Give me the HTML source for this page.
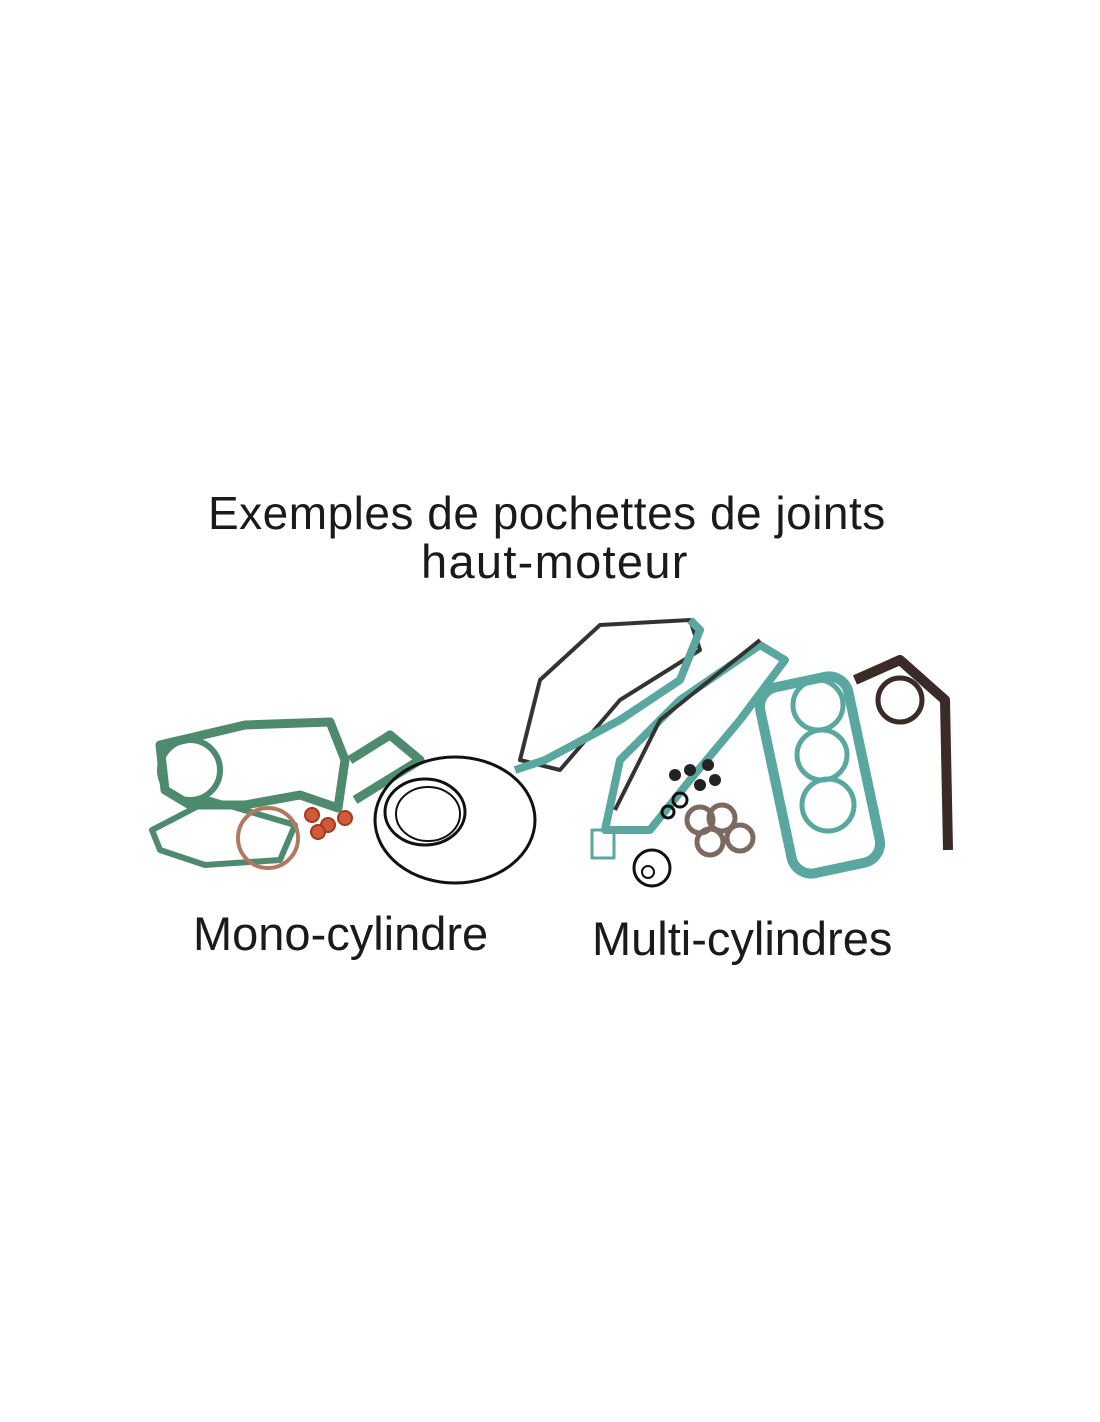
<!DOCTYPE html>
<html><head><style>
html,body{margin:0;padding:0;background:#fff;}
body{width:1100px;height:1422px;position:relative;overflow:hidden;font-family:"Liberation Sans",sans-serif;color:#1a1a1a;}
.t{position:absolute;white-space:nowrap;}
</style></head><body>
<div class="t" style="left:208px;top:486px;font-size:46px;letter-spacing:0.5px;">Exemples de pochettes de joints</div>
<div class="t" style="left:421px;top:534px;font-size:47px;letter-spacing:1.3px;">haut-moteur</div>
<div class="t" style="left:193px;top:906px;font-size:47px;">Mono-cylindre</div>
<div class="t" style="left:592px;top:911px;font-size:47px;">Multi-cylindres</div>
<svg width="1100" height="1422" style="position:absolute;left:0;top:0">
<g fill="none" stroke-linejoin="round">
<path d="M160 745 L245 725 L330 722 L345 760 L338 808 L300 795 L245 805 L190 805 L165 790 Z" stroke="#4d8a6e" stroke-width="9"/>
<circle cx="190" cy="770" r="30" stroke="#4d8a6e" stroke-width="6"/>
<path d="M350 760 L390 735 L420 760 L355 800" stroke="#4d8a6e" stroke-width="9"/>
<path d="M152 830 L210 800 L295 825 L280 860 L205 865 L160 850 Z" stroke="#4d8a6e" stroke-width="6"/>
<circle cx="268" cy="838" r="30" stroke="#b07a60" stroke-width="4"/>
<g fill="#d05a3a" stroke="#a03a20" stroke-width="2"><circle cx="312" cy="815" r="7"/><circle cx="328" cy="825" r="7"/><circle cx="345" cy="818" r="7"/><circle cx="318" cy="832" r="7"/></g>
<ellipse cx="455" cy="820" rx="80" ry="63" stroke="#111" stroke-width="3"/>
<ellipse cx="425" cy="812" rx="40" ry="33" stroke="#111" stroke-width="3"/>
<ellipse cx="428" cy="814" rx="32" ry="27" stroke="#111" stroke-width="2"/>
<path d="M520 760 L540 680 L600 625 L690 620 L700 650 L620 700 L560 770 Z" stroke="#333" stroke-width="4"/>
<path d="M515 770 L545 760 L620 720 L680 680 L700 630 L690 620" stroke="#5aa7a0" stroke-width="8"/>
<path d="M605 830 L620 760 L680 700 L760 645 L785 660 L740 720 L690 780 L650 830 Z" stroke="#5aa7a0" stroke-width="8"/>
<path d="M615 810 L660 720 L760 640" stroke="#333" stroke-width="4"/>
<rect x="775" y="680" width="90" height="190" rx="20" stroke="#5aa7a0" stroke-width="10" transform="rotate(-12 820 775)"/>
<circle cx="818" cy="705" r="25" stroke="#5aa7a0" stroke-width="5"/>
<circle cx="822" cy="755" r="25" stroke="#5aa7a0" stroke-width="5"/>
<circle cx="828" cy="805" r="26" stroke="#5aa7a0" stroke-width="5"/>
<path d="M855 680 L900 660 L945 700 L948 850" stroke="#3a2a28" stroke-width="10"/>
<circle cx="900" cy="700" r="22" stroke="#3a2a28" stroke-width="5"/>
<g fill="#222"><circle cx="675" cy="775" r="6"/><circle cx="690" cy="770" r="6"/><circle cx="700" cy="785" r="6"/><circle cx="715" cy="780" r="6"/><circle cx="708" cy="765" r="6"/></g>
<circle cx="680" cy="800" r="7" stroke="#111" stroke-width="3"/>
<circle cx="668" cy="812" r="6" stroke="#111" stroke-width="3"/>
<circle cx="700" cy="820" r="13" stroke="#7a6a60" stroke-width="5"/>
<circle cx="722" cy="818" r="13" stroke="#7a6a60" stroke-width="5"/>
<circle cx="740" cy="838" r="13" stroke="#7a6a60" stroke-width="5"/>
<circle cx="710" cy="842" r="13" stroke="#7a6a60" stroke-width="5"/>
<circle cx="652" cy="868" r="18" stroke="#111" stroke-width="3"/>
<circle cx="648" cy="872" r="6" stroke="#111" stroke-width="2"/>
<rect x="592" y="830" width="22" height="28" stroke="#5aa7a0" stroke-width="3"/>
</g>
</svg>
</body></html>
